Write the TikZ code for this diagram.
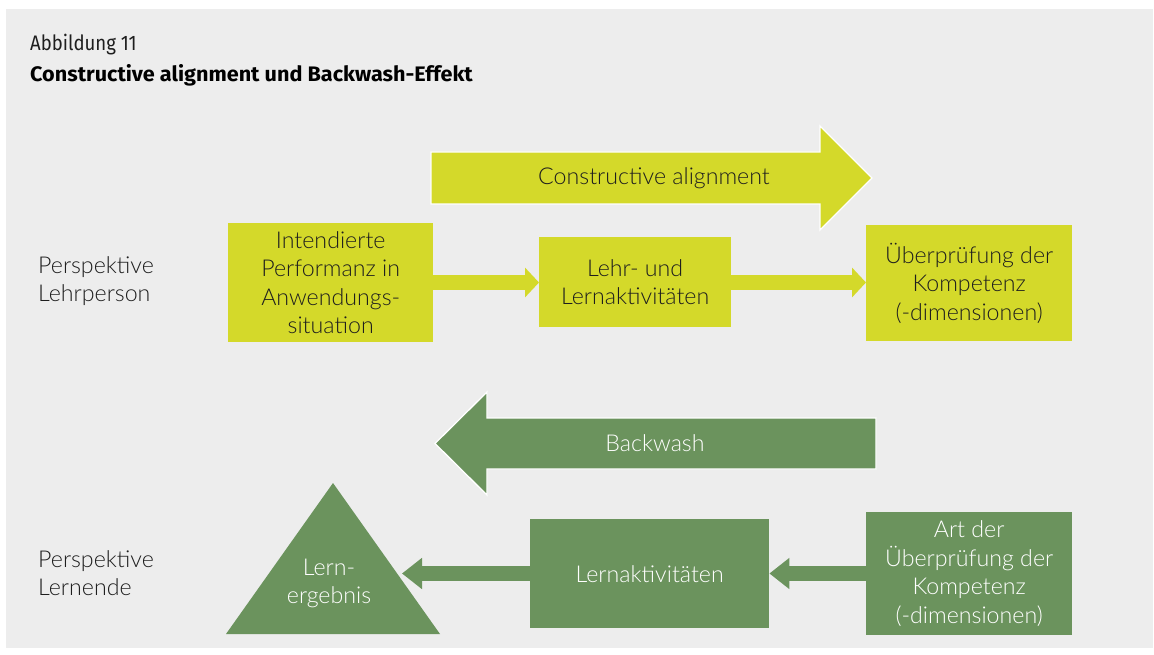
\documentclass[tikz,border=0pt]{standalone}
\usepackage{fontspec}
\setmainfont{Lato}[UprightFont={* Light}]
\newfontfamily\titlefont[FakeStretch=0.885]{Fira Sans}
\newfontfamily\titlebold[FakeStretch=1.03]{Fira Sans}
\usetikzlibrary{arrows.meta,calc}
\definecolor{bgray}{HTML}{EDEDED}
\definecolor{yel}{HTML}{D4D92A}
\definecolor{grn}{HTML}{6B935D}
\definecolor{ink}{HTML}{1E1E1E}
\tikzset{
  txt/.style={font=\fontsize{23.2}{28.5}\selectfont, align=center, inner sep=0pt},
  ybox/.style={fill=yel, text=ink, txt, anchor=north west},
  gbox/.style={fill=grn, text=white, txt, anchor=north west},
  side/.style={font=\fontsize{23.2}{28.5}\selectfont, align=left, text=ink, anchor=west, inner sep=0pt},
  bigarrow/.style={draw=white, line width=1.3pt, line join=miter},
  yconn/.style={draw=yel, line width=15pt, -{Triangle[length=14pt,width=29pt]}},
  gconn/.style={draw=grn, line width=15pt, -{Triangle[length=20pt,width=30pt]}},
}
\begin{document}
\begin{tikzpicture}[x=1pt,y=-1pt]
\useasboundingbox (0,0) rectangle (1154,655);
\fill[white] (0,0) rectangle (1154,655);
\fill[bgray] (6,9) rectangle (1153,648);
% title
\node[anchor=base west, inner sep=0pt, text=ink, font=\titlefont\fontsize{21}{24}\selectfont] (abb) at (30,51) {Abbildung 11};
\node[anchor=base west, inner sep=0pt, text=black, font=\titlebold\bfseries\fontsize{21}{24}\selectfont] (ttl) at (30,82) {Constructive alignment und Backwash-Effekt};
% side labels
\node[side] (lp) at (38,281) {Perspektive\\Lehrperson};
\node[side] (ll) at (38,573) {Perspektive\\Lernende};
% constructive alignment arrow
\fill[yel, bigarrow] (431,152) -- (820,152) -- (820,126) -- (872,178) -- (820,230) -- (820,204) -- (431,204) -- cycle;
\node[txt, text=ink] (ca) at (654,178) {Constructive alignment};
% backwash arrow
\fill[grn, bigarrow] (876,418) -- (487,418) -- (487,392) -- (435,443.5) -- (487,495) -- (487,469) -- (876,469) -- cycle;
\node[txt, text=white] (bw) at (655,443.5) {Backwash};
% teacher row
\node[ybox, minimum width=205pt, minimum height=119pt] (b1) at (228,223) {Intendierte\\Performanz in\\Anwendungs-\\situation};
\node[ybox, minimum width=192pt, minimum height=90pt] (b2) at (539,237) {Lehr- und\\Lernaktivitäten};
\node[ybox, minimum width=206pt, minimum height=116pt] (b3) at (866,225) {Überprüfung der\\Kompetenz\\(-dimensionen)};
\draw[yconn] (b1.east |- 0,282.5) -- (b2.west |- 0,282.5);
\draw[yconn] (b2.east |- 0,282.5) -- (b3.west |- 0,282.5);
% learner row
\fill[grn] (333,483) -- (440,634) -- (226,634) -- cycle;
\node[txt, text=white] (le) at (329,583.5) {Lern-\\ergebnis};
\coordinate (tri) at (402,573.5);
\node[gbox, minimum width=239pt, minimum height=109pt] (la) at (530,519) {Lernaktivitäten};
\node[gbox, minimum width=206pt, minimum height=123pt] (ap) at (866,512) {Art der\\Überprüfung der\\Kompetenz\\(-dimensionen)};
\draw[gconn] (ap.west |- 0,573.5) -- (la.east |- 0,573.5);
\draw[gconn] (la.west |- 0,573.5) -- (tri);
\end{tikzpicture}
\end{document}
